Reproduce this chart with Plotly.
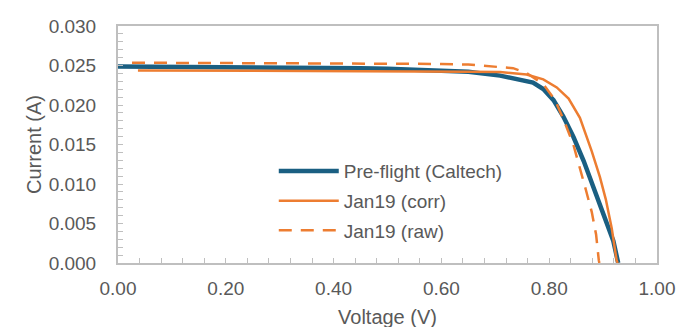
import plotly.graph_objects as go

# Pre-flight (Caltech)
pre_v = [0.0, 0.05, 0.10, 0.15, 0.20, 0.25, 0.30, 0.35, 0.40, 0.45, 0.50, 0.55, 0.60, 0.65,
         0.709, 0.746, 0.770, 0.789, 0.808, 0.826, 0.845, 0.864, 0.882, 0.900, 0.919, 0.928]
pre_i = [0.02488, 0.02487, 0.02485, 0.02483, 0.02481, 0.02478, 0.02476, 0.02473, 0.02470,
         0.02465, 0.02458, 0.02450, 0.02438, 0.02420,
         0.02372, 0.02324, 0.02284, 0.02202, 0.02061, 0.01858, 0.01595, 0.01291, 0.00968,
         0.00644, 0.00279, 0.0]

# Jan19 (corr)
corr_v = [0.037, 0.10, 0.20, 0.30, 0.40, 0.50, 0.60, 0.65, 0.709, 0.758, 0.789, 0.814,
          0.836, 0.857, 0.879, 0.894, 0.905, 0.916, 0.925, 0.927]
corr_i = [0.02438, 0.02437, 0.02436, 0.02435, 0.02433, 0.02430, 0.02426, 0.02422, 0.02417,
          0.02385, 0.02324, 0.02223, 0.02081, 0.01838, 0.01413, 0.01089, 0.00806, 0.00441,
          0.00036, 0.0]

# Jan19 (raw)
raw_v = [0.026, 0.10, 0.20, 0.30, 0.40, 0.50, 0.60, 0.65, 0.709, 0.733, 0.758, 0.789,
         0.811, 0.829, 0.845, 0.857, 0.868, 0.879, 0.887, 0.892, 0.893]
raw_i = [0.02535, 0.02534, 0.02533, 0.02532, 0.02530, 0.02527, 0.02520, 0.02512, 0.02486,
         0.02466, 0.02405, 0.02263, 0.02061, 0.01777, 0.01494, 0.01211, 0.00927, 0.00644,
         0.00361, 0.00036, 0.0]

names = ["Pre-flight (Caltech)", "Jan19 (corr)", "Jan19 (raw)"]

BLUE = "#1A5F82"
ORANGE = "#ED7D31"
GRAY_TXT = "#595959"
AXIS = "#BFBFBF"
FONT = "Liberation Sans, Arial, sans-serif"

fig = go.Figure()
fig.add_trace(go.Scatter(x=pre_v, y=pre_i, mode="lines", name=names[0], legendgroup="a",
                         line=dict(color=BLUE, width=4.5)))
fig.add_trace(go.Scatter(x=corr_v, y=corr_i, mode="lines", name=names[1], legendgroup="b",
                         line=dict(color=ORANGE, width=2.5)))
fig.add_trace(go.Scatter(x=raw_v, y=raw_i, mode="lines", name=names[2], legendgroup="c",
                         line=dict(color=ORANGE, width=2.5, dash="13px,9px")))

axis_common = dict(
    showgrid=False, zeroline=False, showline=True, linecolor=AXIS, linewidth=2,
    mirror=True, ticks="inside", ticklen=5, tickcolor=AXIS, tickwidth=1,
    tickfont=dict(family=FONT, size=19, color=GRAY_TXT),
    ticklabeloverflow="allow",
)

fig.update_xaxes(range=[0, 1.0], dtick=0.2, tickformat=".2f",
                 minor=dict(dtick=0.04, ticks="inside", ticklen=5, tickcolor=AXIS),
                 title=dict(text="Voltage (V)", font=dict(family=FONT, size=20, color=GRAY_TXT), standoff=12),
                 ticklabelstandoff=7,
                 **axis_common)
fig.update_yaxes(range=[0, 0.030], dtick=0.005, tickformat=".3f",
                 minor=dict(dtick=0.001, ticks="inside", ticklen=5, tickcolor=AXIS),
                 title=dict(text="Current (A)", font=dict(family=FONT, size=20, color=GRAY_TXT), standoff=2),
                 ticklabelstandoff=16,
                 **axis_common)

fig.update_layout(
    width=694, height=327,
    margin=dict(l=110, r=45, t=8, b=72),
    paper_bgcolor="white", plot_bgcolor="white",
    showlegend=True,
    legend=dict(x=0.289, y=0.468, xanchor="left", yanchor="top",
                bgcolor="rgba(0,0,0,0)", itemwidth=60, tracegroupgap=2,
                font=dict(family=FONT, size=19, color=GRAY_TXT)),
)

fig.write_html("out.html")
